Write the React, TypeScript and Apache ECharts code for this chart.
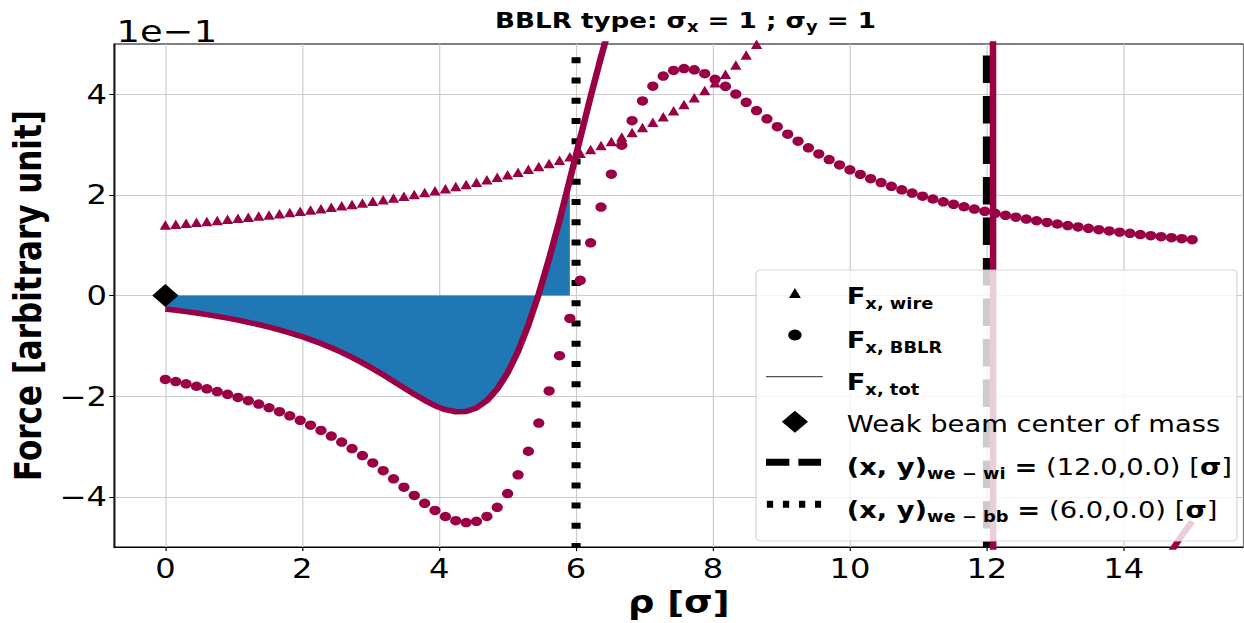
import React, { useEffect, useRef } from 'react';
import * as echarts from 'echarts';

// Transverse position of the weak beam, in units of sigma
const rho = [
  0, 0.152, 0.303, 0.455, 0.606, 0.758, 0.909, 1.061, 1.212, 1.364,
  1.515, 1.667, 1.818, 1.97, 2.121, 2.273, 2.424, 2.576, 2.727, 2.879,
  3.03, 3.182, 3.333, 3.485, 3.636, 3.788, 3.939, 4.091, 4.242, 4.394,
  4.545, 4.697, 4.848, 5.0, 5.152, 5.303, 5.455, 5.606, 5.758, 5.909,
  6.061, 6.212, 6.364, 6.515, 6.667, 6.818, 6.97, 7.121, 7.273, 7.424,
  7.576, 7.727, 7.879, 8.03, 8.182, 8.333, 8.485, 8.636, 8.788, 8.939,
  9.091, 9.242, 9.394, 9.545, 9.697, 9.848, 10.0, 10.152, 10.303, 10.455,
  10.606, 10.758, 10.909, 11.061, 11.212, 11.364, 11.515, 11.667, 11.818, 11.97,
  12.121, 12.273, 12.424, 12.576, 12.727, 12.879, 13.03, 13.182, 13.333, 13.485,
  13.636, 13.788, 13.939, 14.091, 14.242, 14.394, 14.545, 14.697, 14.848, 15.0,
];

// Wire kick (x 1e-1)
const fWire = [
  1.4, 1.418, 1.436, 1.455, 1.474, 1.494, 1.515, 1.536, 1.557, 1.58,
  1.602, 1.626, 1.65, 1.675, 1.701, 1.727, 1.754, 1.783, 1.812, 1.842,
  1.873, 1.905, 1.938, 1.973, 2.009, 2.046, 2.084, 2.124, 2.166, 2.209,
  2.254, 2.3, 2.349, 2.4, 2.453, 2.509, 2.567, 2.627, 2.691, 2.758,
  2.829, 2.903, 2.981, 3.063, 3.15, 3.242, 3.34, 3.443, 3.554, 3.671,
  3.797, 3.932, 4.077, 4.232, 4.4, 4.582, 4.779, 4.995, 5.23, 5.489,
  5.775, 6.092, 6.446, 6.844, 7.295, 7.807, 8.4, 9.09, 9.9, 10.87,
  12.05, 13.53, 15.4, 17.89, 21.32, 26.41, 34.65, 50.4, 92.4, 554.4,
  -138.6, -61.6, -39.6, -29.17, -23.1, -19.11, -16.31, -14.21, -12.6, -11.31,
  -10.27, -9.4, -8.66, -8.03, -7.49, -7.02, -6.6, -6.23, -5.9, -5.6,
];

// Long-range beam-beam kick (x 1e-1)
const fBBLR = [
  -1.667, -1.71, -1.755, -1.803, -1.854, -1.908, -1.964, -2.025, -2.089, -2.157,
  -2.23, -2.308, -2.391, -2.48, -2.577, -2.681, -2.792, -2.912, -3.041, -3.18,
  -3.326, -3.481, -3.643, -3.808, -3.972, -4.129, -4.272, -4.392, -4.475, -4.512,
  -4.488, -4.391, -4.209, -3.935, -3.563, -3.095, -2.535, -1.895, -1.195, -0.454,
  0.303, 1.049, 1.759, 2.413, 2.989, 3.476, 3.868, 4.162, 4.362, 4.475,
  4.512, 4.487, 4.411, 4.298, 4.159, 4.004, 3.841, 3.676, 3.513, 3.357,
  3.208, 3.068, 2.937, 2.816, 2.702, 2.597, 2.499, 2.408, 2.324, 2.245,
  2.171, 2.102, 2.037, 1.976, 1.919, 1.864, 1.813, 1.765, 1.719, 1.675,
  1.634, 1.594, 1.557, 1.521, 1.487, 1.454, 1.422, 1.392, 1.364, 1.336,
  1.31, 1.284, 1.26, 1.236, 1.213, 1.191, 1.17, 1.15, 1.13, 1.111,
];

// Total kick (x 1e-1)
const fTot = [
  -0.267, -0.292, -0.319, -0.348, -0.38, -0.414, -0.449, -0.489, -0.532, -0.577,
  -0.628, -0.682, -0.741, -0.805, -0.876, -0.954, -1.038, -1.129, -1.229, -1.338,
  -1.453, -1.576, -1.705, -1.835, -1.963, -2.083, -2.188, -2.268, -2.309, -2.303,
  -2.234, -2.091, -1.86, -1.535, -1.11, -0.586, 0.032, 0.732, 1.496, 2.304,
  3.132, 3.952, 4.74, 5.476, 6.139, 6.718, 7.208, 7.605, 7.916, 8.146,
  8.309, 8.419, 8.488, 8.53, 8.559, 8.586, 8.62, 8.671, 8.743, 8.846,
  8.983, 9.16, 9.383, 9.66, 9.997, 10.404, 10.899, 11.498, 12.224, 13.115,
  14.22, 15.63, 17.44, 19.87, 23.24, 28.27, 36.46, 52.17, 94.12, 556.1,
  -137.0, -60.0, -38.04, -27.65, -21.61, -17.66, -14.89, -12.82, -11.24, -9.97,
  -8.96, -8.12, -7.4, -6.79, -6.28, -5.83, -5.43, -5.08, -4.77, -4.49,
];

// Shaded region: samples with rho < 6
const shadeLastIndex = 39;

const xTicks = [0, 2, 4, 6, 8, 10, 12, 14];
const yTicks = [-4, -2, 0, 2, 4];
const xRange = [-0.75, 15.75];
const yRange = [-5, 5];

const wirePos = 12;
const bbPos = 6;
const weakCenter = [0, 0];

// Figure geometry (drawn narrower, then widened horizontally)
const STRETCH = 1.19;
const W = 1244 / STRETCH;
const H = 623;
const WINE = '#9a0044';
const FONT = 'DejaVu Sans';

const minus = (v: number) => (v < 0 ? '\u2212' + Math.abs(v) : String(v));

export default function App() {
  const ref = useRef<HTMLDivElement>(null);

  useEffect(() => {
    if (!ref.current) return;
    const chart = echarts.init(ref.current, null, { renderer: 'svg' });

    const pairs = (ys: number[]) => rho.map((x, i) => [x, ys[i]]);

    const legendX = 635.3;
    const handleX = 668;
    const textX = 711.5;

    const richBase = {
      b: { fontFamily: FONT, fontWeight: 'bold', fontSize: 23, lineHeight: 30, fill: '#000' },
      n: { fontFamily: FONT, fontWeight: 'normal', fontSize: 23, lineHeight: 30, fill: '#000' },
      s: { fontFamily: FONT, fontWeight: 'bold', fontSize: 15, lineHeight: 16, verticalAlign: 'bottom', fill: '#000' },
    };

    const legendText = (y: number, text: string) => ({
      type: 'text',
      z: 101,
      style: {
        x: textX,
        y,
        text,
        rich: richBase,
        verticalAlign: 'middle',
        align: 'left',
      },
    });

    chart.setOption({
      animation: false,
      backgroundColor: '#fff',
      grid: {
        left: 114 / STRETCH,
        top: 44,
        width: 1143 / STRETCH,
        height: 509,
        show: true,
        borderColor: '#000',
        borderWidth: 1,
        backgroundColor: 'transparent',
      },
      xAxis: {
        type: 'value',
        min: xRange[0],
        max: xRange[1],
        axisLine: { show: true, onZero: false, lineStyle: { color: '#000', width: 1 } },
        axisTick: { show: true, length: 4, customValues: xTicks, lineStyle: { color: '#000' } },
        axisLabel: {
          customValues: xTicks,
          fontSize: 27,
          fontFamily: FONT,
          color: '#000',
          margin: 8,
          formatter: (v: number) => minus(v),
        },
        splitLine: { show: true, lineStyle: { color: '#cccccc', width: 1 } },
        name: 'ρ [σ]',
        nameLocation: 'middle',
        nameGap: 38,
        nameTextStyle: { fontSize: 31, fontWeight: 'bold', color: '#000', fontFamily: FONT },
      },
      yAxis: {
        type: 'value',
        min: yRange[0],
        max: yRange[1],
        axisLine: { show: true, onZero: false, lineStyle: { color: '#000', width: 1 } },
        axisTick: { show: true, length: 4, customValues: yTicks, lineStyle: { color: '#000' } },
        axisLabel: {
          customValues: yTicks,
          fontSize: 27,
          fontFamily: FONT,
          color: '#000',
          margin: 6,
          formatter: (v: number) => minus(v),
        },
        splitLine: { show: true, lineStyle: { color: '#cccccc', width: 1 } },
        name: 'Force [arbitrary unit]',
        nameLocation: 'middle',
        nameGap: 52,
        nameTextStyle: { fontSize: 31, fontWeight: 'bold', color: '#000', fontFamily: FONT },
      },
      series: [
        {
          type: 'line',
          data: pairs(fTot).slice(0, shadeLastIndex + 1),
          showSymbol: false,
          symbol: 'none',
          lineStyle: { width: 0 },
          areaStyle: { color: '#1f77b4', opacity: 1, origin: 'auto' },
          silent: true,
          z: 1,
        },
        {
          type: 'line',
          data: [[bbPos, yRange[0]], [bbPos, yRange[1]]],
          symbol: 'none',
          lineStyle: { color: '#000', width: 7.6, type: [6, 14.24], dashOffset: 2, cap: 'butt' },
          silent: true,
          z: 2,
        },
        {
          type: 'line',
          data: [[wirePos, yRange[0]], [wirePos, yRange[1]]],
          symbol: 'none',
          lineStyle: { color: '#000', width: 6.7, type: [27.7, 12.8], dashOffset: 22.3, cap: 'butt' },
          silent: true,
          z: 2,
        },
        {
          type: 'line',
          data: pairs(fTot),
          symbol: 'none',
          showSymbol: false,
          clip: true,
          lineStyle: { color: WINE, width: 5.5, join: 'round' },
          z: 3,
        },
        {
          type: 'scatter',
          data: pairs(fWire),
          symbol: 'triangle',
          symbolSize: [9.5, 9.5],
          clip: true,
          itemStyle: { color: WINE, opacity: 1 },
          z: 4,
        },
        {
          type: 'scatter',
          data: pairs(fBBLR),
          symbol: 'circle',
          symbolSize: 9.5,
          clip: true,
          itemStyle: { color: WINE, opacity: 1 },
          z: 4,
        },
        {
          type: 'scatter',
          data: [weakCenter],
          symbol: 'diamond',
          symbolSize: [22, 23],
          itemStyle: { color: '#000', opacity: 1 },
          z: 6,
        },
      ],
      graphic: [
        {
          type: 'text',
          z: 101,
          style: {
            x: (114 + 1257) / 2 / STRETCH,
            y: 20.5,
            text: '{b|BBLR type: σ}{s|x}{b| = 1 ; σ}{s|y}{b| = 1}',
            align: 'center',
            verticalAlign: 'middle',
            rich: {
              b: { fontFamily: FONT, fontWeight: 'bold', fontSize: 22, lineHeight: 28, fill: '#000' },
              s: { fontFamily: FONT, fontWeight: 'bold', fontSize: 15, lineHeight: 15, verticalAlign: 'bottom', fill: '#000' },
            },
          },
        },
        {
          type: 'text',
          z: 101,
          style: {
            x: 98,
            y: 31.4,
            text: '1e\u22121',
            fontFamily: FONT,
            fontSize: 31,
            fill: '#000',
            align: 'left',
            verticalAlign: 'middle',
          },
        },
        {
          type: 'rect',
          z: 100,
          shape: { x: legendX, y: 270, width: 404.2, height: 271, r: 4 },
          style: { fill: 'rgba(255,255,255,0.8)', stroke: 'rgba(204,204,204,0.8)', lineWidth: 1 },
        },
        {
          type: 'polygon',
          z: 101,
          shape: { points: [[handleX, 288], [handleX - 5, 298], [handleX + 5, 298]] },
          style: { fill: '#000' },
        },
        {
          type: 'circle',
          z: 101,
          shape: { cx: handleX, cy: 335, r: 5.6 },
          style: { fill: '#000' },
        },
        {
          type: 'line',
          z: 101,
          shape: { x1: 643.7, y1: 376.7, x2: 691.3, y2: 376.7 },
          style: { stroke: '#555', lineWidth: 1.3 },
        },
        {
          type: 'polygon',
          z: 101,
          shape: { points: [[handleX, 410.7], [handleX + 11, 421.7], [handleX, 432.7], [handleX - 11, 421.7]] },
          style: { fill: '#000' },
        },
        {
          type: 'line',
          z: 101,
          shape: { x1: 643.7, y1: 462.3, x2: 690, y2: 462.3 },
          style: { stroke: '#000', lineWidth: 7, lineDash: [19.6, 7.6], lineCap: 'butt' },
        },
        {
          type: 'line',
          z: 101,
          shape: { x1: 644.4, y1: 504.3, x2: 690, y2: 504.3 },
          style: { stroke: '#000', lineWidth: 7, lineDash: [5.3, 8.2], lineCap: 'butt' },
        },
        legendText(296.5, '{b|F}{s|x, wire}'),
        legendText(340, '{b|F}{s|x, BBLR}'),
        legendText(382.5, '{b|F}{s|x, tot}'),
        legendText(424, '{n|Weak beam center of mass}'),
        legendText(467, '{b|(x, y)}{s|we \u2212 wi}{n| }{b|=}{n| (12.0,0.0) [}{b|σ}{n|]}'),
        legendText(510, '{b|(x, y)}{s|we \u2212 bb}{n| }{b|=}{n| (6.0,0.0) [}{b|σ}{n|]}'),
      ],
    });

    return () => chart.dispose();
  }, []);

  return (
    <div
      style={{
        position: 'fixed',
        left: 0,
        top: 0,
        width: 1244,
        height: H,
        overflow: 'hidden',
        background: '#fff',
      }}
    >
      <div
        ref={ref}
        style={{
          width: W,
          height: H,
          transform: `scaleX(${STRETCH})`,
          transformOrigin: '0 0',
        }}
      />
    </div>
  );
}
